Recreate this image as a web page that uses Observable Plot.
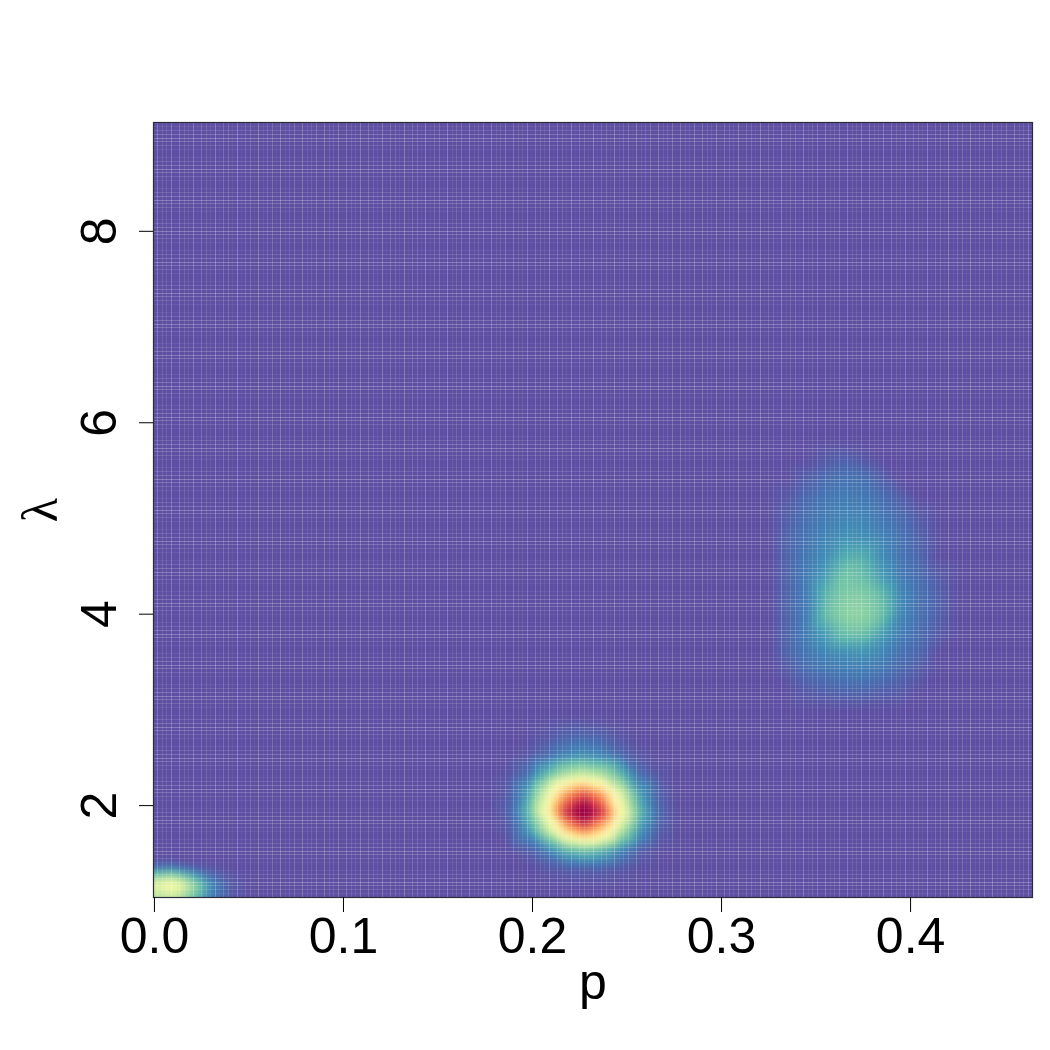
<!DOCTYPE html>
<html>
<head>
<meta charset="utf-8">
<style>html,body{margin:0;padding:0;background:#fff}</style>
<script src="https://cdn.jsdelivr.net/npm/d3@7"></script>
<script src="https://cdn.jsdelivr.net/npm/@observablehq/plot@0.6"></script>
</head>
<body>
<div id="chart"></div>
<script>
const xTicks = [0, 0.1, 0.2, 0.3, 0.4];
const yTicks = [2, 4, 6, 8];
const xDomain = [-0.0005, 0.4645];
const yDomain = [1.04, 9.137];
const cellCount = 200;
const frameWidth = 879;
const frameHeight = 775;

const cornerP = [-0.0005, 0.4645, -0.0005, 0.4645];
const cornerL = [1.04, 1.04, 9.137, 9.137];

const coreP = [0.227, 0.224, 0.230, 0.227, 0.227];
const coreL = [1.93, 1.93, 1.93, 1.98, 1.88];
const coreZ = [1.1, 1.03, 1.03, 1.03, 1.03];

const redP = [0.177, 0.187, 0.197, 0.207, 0.217, 0.227, 0.237, 0.247, 0.257, 0.267, 0.277];
const redL = [2.93, 2.73, 2.53, 2.33, 2.13, 1.93, 1.73, 1.53, 1.33, 1.13];
const redZ = [
  [0, 0, 0, 0, 0, 0, 0, 0, 0, 0, 0],
  [0, 0, 0, 0.01, 0.03, 0.04, 0.03, 0.01, 0, 0, 0],
  [0, 0, 0.01, 0.04, 0.09, 0.11, 0.09, 0.04, 0.01, 0, 0],
  [0, 0.01, 0.05, 0.18, 0.30, 0.35, 0.30, 0.18, 0.05, 0.01, 0],
  [0, 0.02, 0.13, 0.38, 0.70, 0.85, 0.70, 0.38, 0.13, 0.03, 0],
  [0, 0.03, 0.18, 0.48, 0.91, 1.00, 0.91, 0.48, 0.18, 0.04, 0],
  [0, 0.015, 0.11, 0.31, 0.60, 0.75, 0.60, 0.31, 0.11, 0.02, 0],
  [0, 0, 0.02, 0.08, 0.17, 0.21, 0.17, 0.08, 0.02, 0, 0],
  [0, 0, 0, 0.01, 0.02, 0.02, 0.02, 0.01, 0, 0, 0],
  [0, 0, 0, 0, 0, 0, 0, 0, 0, 0, 0]
];

const blueP = [0.325, 0.335, 0.345, 0.355, 0.365, 0.375, 0.385, 0.395, 0.405, 0.415, 0.425];
const blueL = [5.8, 5.6, 5.4, 5.2, 5.0, 4.8, 4.6, 4.4, 4.2, 4.0, 3.8, 3.6, 3.4, 3.2, 3.0];
const blueZ = [
  [0, 0, 0, 0, 0, 0, 0, 0, 0, 0, 0],
  [0, 0, 0, 0.02, 0.035, 0.02, 0, 0, 0, 0, 0],
  [0, 0, 0.03, 0.055, 0.065, 0.06, 0.03, 0, 0, 0, 0],
  [0, 0.02, 0.05, 0.07, 0.08, 0.075, 0.055, 0.03, 0, 0, 0],
  [0, 0.03, 0.06, 0.08, 0.095, 0.095, 0.07, 0.05, 0.02, 0, 0],
  [0, 0.04, 0.065, 0.095, 0.115, 0.11, 0.09, 0.06, 0.03, 0, 0],
  [0, 0.04, 0.075, 0.11, 0.17, 0.17, 0.105, 0.065, 0.04, 0, 0],
  [0, 0.04, 0.08, 0.14, 0.22, 0.20, 0.13, 0.075, 0.05, 0.02, 0],
  [0, 0.04, 0.08, 0.18, 0.24, 0.24, 0.19, 0.095, 0.06, 0.03, 0],
  [0, 0.04, 0.08, 0.20, 0.26, 0.265, 0.21, 0.095, 0.06, 0.03, 0],
  [0, 0.04, 0.08, 0.14, 0.21, 0.21, 0.14, 0.08, 0.05, 0.02, 0],
  [0, 0.04, 0.07, 0.095, 0.11, 0.12, 0.095, 0.06, 0.04, 0, 0],
  [0, 0.02, 0.05, 0.065, 0.075, 0.08, 0.065, 0.04, 0.02, 0, 0],
  [0, 0, 0.02, 0.03, 0.04, 0.04, 0.03, 0.02, 0, 0, 0],
  [0, 0, 0, 0, 0, 0, 0, 0, 0, 0, 0]
];

const smallP = [-0.0005, 0.01, 0.02, 0.03, 0.04, 0.05];
const smallL = [1.46, 1.40, 1.34, 1.28, 1.22, 1.16, 1.10, 1.04];
const smallZ = [
  [0, 0, 0, 0, 0, 0],
  [0.01, 0.015, 0, 0, 0, 0],
  [0.09, 0.11, 0.05, 0.02, 0, 0],
  [0.21, 0.25, 0.14, 0.04, 0.01, 0],
  [0.33, 0.40, 0.24, 0.08, 0.015, 0],
  [0.38, 0.48, 0.29, 0.10, 0.02, 0],
  [0.36, 0.42, 0.26, 0.09, 0.02, 0],
  [0.29, 0.33, 0.20, 0.07, 0.015, 0]
];

const samples = cornerP.map((p, i) => ({p, l: cornerL[i], z: 0}));
coreP.forEach((p, i) => samples.push({p, l: coreL[i], z: coreZ[i]}));
for (const [ps, ls, zs] of [[redP, redL, redZ], [blueP, blueL, blueZ], [smallP, smallL, smallZ]]) {
  ls.forEach((l, r) => ps.forEach((p, c) => {
    if (!(ps === redP && p === 0.227 && l === 1.93)) samples.push({p, l, z: zs[r][c]});
  }));
}

// Cell seams of the image: each is as visible as it is misaligned with the pixel grid.
const seam = (i, size) => {
  const f = (i * size / cellCount) % 1;
  return 0.26 * (1 - Math.abs(2 * f - 1));
};
const seamsX = d3.range(cellCount + 1).map(i => ({
  v: xDomain[0] + (xDomain[1] - xDomain[0]) * i / cellCount,
  o: seam(i, frameWidth)
}));
const seamsY = d3.range(cellCount + 1).map(i => ({
  v: yDomain[1] - (yDomain[1] - yDomain[0]) * i / cellCount,
  o: seam(i, frameHeight)
}));

const font = "'Liberation Sans', Arial, sans-serif";

const chart = Plot.plot({
  width: 1050,
  height: 1050,
  marginLeft: 153,
  marginRight: 18,
  marginTop: 122,
  marginBottom: 153,
  style: {fontFamily: font, background: "#fff"},
  x: {domain: xDomain},
  y: {domain: yDomain},
  color: {type: "linear", domain: [0, 1], scheme: "Spectral", reverse: true},
  marks: [
    Plot.raster(samples, {
      x: "p", y: "l", fill: "z",
      interpolate: "barycentric",
      x1: xDomain[0], x2: xDomain[1], y1: yDomain[0], y2: yDomain[1],
      blur: 3
    }),
    Plot.gridX(seamsX, {x: "v", stroke: "white", strokeOpacity: "o", strokeWidth: 1, shapeRendering: "crispEdges"}),
    Plot.gridY(seamsY, {y: "v", stroke: "white", strokeOpacity: "o", strokeWidth: 1, shapeRendering: "crispEdges"}),
    Plot.frame({stroke: "#2b2b3a", strokeWidth: 1.2}),
    Plot.axisX({ticks: xTicks, tickFormat: d3.format(".1f"), tickSize: 15, tickPadding: 5, fontSize: 50, label: null, stroke: "#000"}),
    Plot.axisY({ticks: yTicks, tickSize: 14, tickPadding: 24, fontSize: 50, label: null, tickRotate: -90, stroke: "#000"}),
    Plot.text(["p"], {frameAnchor: "bottom", dy: 101, fontSize: 50, fill: "#000"}),
    Plot.text(["λ"], {frameAnchor: "left", textAnchor: "middle", dx: -113, rotate: -90, fontSize: 50, fill: "#000", fontFamily: "'Liberation Serif', serif"})
  ]
});
document.getElementById("chart").appendChild(chart);
</script>
</body>
</html>
